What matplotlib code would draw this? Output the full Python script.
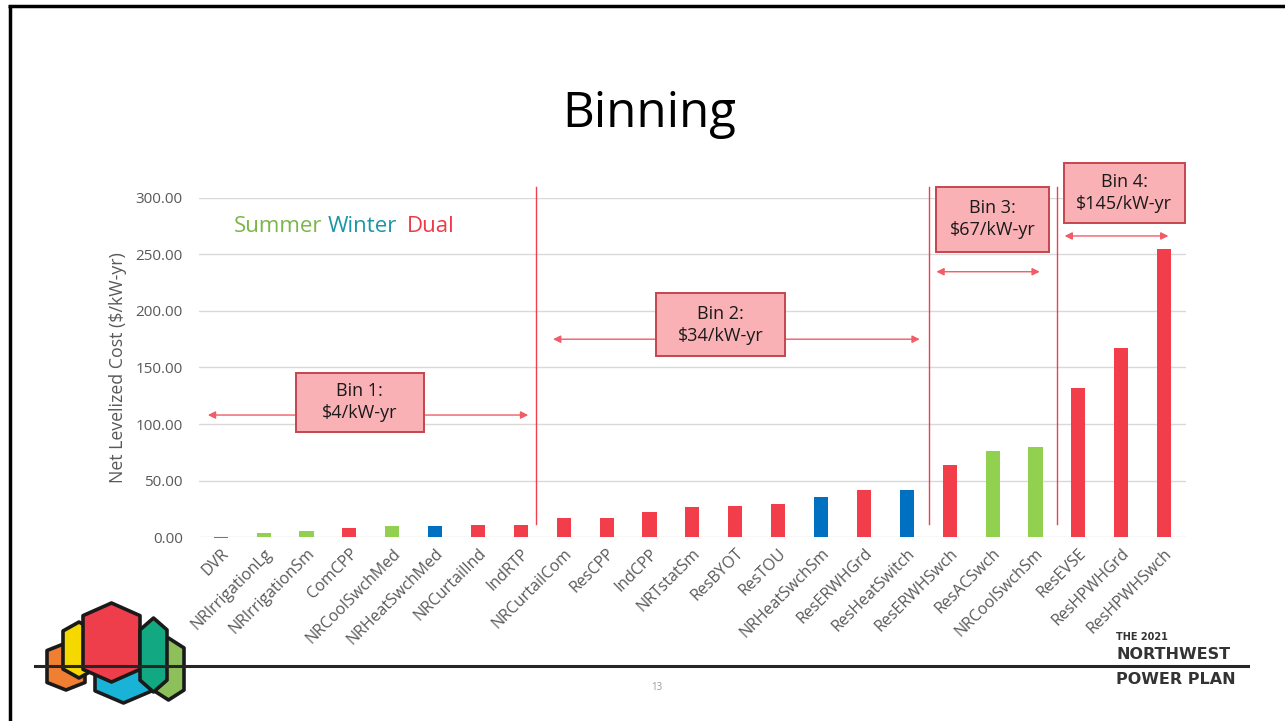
import numpy as np
import matplotlib
matplotlib.use('Agg')
import matplotlib.pyplot as plt
from matplotlib.patches import Rectangle, Polygon

plt.rcParams['font.family'] = ['Open Sans', 'DejaVu Sans']

# programs, sorted by net levelized cost
programs = ['DVR', 'NRIrrigationLg', 'NRIrrigationSm', 'ComCPP', 'NRCoolSwchMed',
            'NRHeatSwchMed', 'NRCurtailInd', 'IndRTP', 'NRCurtailCom', 'ResCPP',
            'IndCPP', 'NRTstatSm', 'ResBYOT', 'ResTOU', 'NRHeatSwchSm', 'ResERWHGrd',
            'ResHeatSwitch', 'ResERWHSwch', 'ResACSwch', 'NRCoolSwchSm', 'ResEVSE',
            'ResHPWHGrd', 'ResHPWHSwch']
cost = [-1.0, 3.8, 5.6, 8.5, 10.0, 10.0, 10.9, 10.9, 17.1, 17.4, 22.1, 26.5, 27.7,
        29.4, 35.6, 41.5, 41.8, 63.6, 76.0, 79.5, 132.2, 167.6, 254.7]
season = ['D', 'S', 'S', 'D', 'S', 'W', 'D', 'D', 'D', 'D', 'D', 'D', 'D', 'D',
          'W', 'D', 'W', 'D', 'S', 'S', 'D', 'D', 'D']

bin_names = ['Bin 1:', 'Bin 2:', 'Bin 3:', 'Bin 4:']
bin_rates = ['$4/kW-yr', '$34/kW-yr', '$67/kW-yr', '$145/kW-yr']

bar_colors = {'S': '#92D050', 'W': '#0070C0', 'D': '#F23E4B'}
red = '#F0404E'
gray = '#595959'

fig = plt.figure(figsize=(12.85, 7.21), dpi=100)

# slide decoration layer, in pixel units
deco = fig.add_axes([0, 0, 1, 1], zorder=0)
deco.set_xlim(0, 1285)
deco.set_ylim(721, 0)
deco.axis('off')

deco.plot([9.5, 9.5], [5.5, 721], color='black', lw=2.5, solid_capstyle='butt')
deco.plot([8.3, 1285], [5.5, 5.5], color='black', lw=2.5, solid_capstyle='butt')

deco.text(649, 127, 'Binning', fontsize=35.5, ha='center', va='baseline', color='black')

deco.text(234, 231.5, 'Summer', fontsize=16, color='#7AB648', va='baseline')
deco.text(328, 231.5, 'Winter', fontsize=16, color='#1A96A6', va='baseline')
deco.text(407, 231.5, 'Dual', fontsize=16, color='#EE3A48', va='baseline')


def hexagon(x0, x1, y0, y1):
    xc = (x0 + x1) / 2
    h = y1 - y0
    return [(xc, y0), (x1, y0 + 0.16 * h), (x1, y1 - 0.16 * h),
            (xc, y1), (x0, y1 - 0.16 * h), (x0, y0 + 0.16 * h)]


# logo hexes: (x0, x1, y0, y1, colour), back to front
logo = [(47, 85, 643, 690, '#F07F32'),
        (63, 95, 622, 678, '#F5D800'),
        (95, 152, 627, 703, '#1AB3D8'),
        (83, 140, 603, 682, '#EE3E4C'),
        (153, 184, 638, 700, '#8DC05A'),
        (140, 167, 618, 692, '#12A982')]
for x0, x1, y0, y1, c in logo:
    deco.add_patch(Polygon(hexagon(x0, x1, y0, y1), closed=True, facecolor=c,
                           edgecolor='#1a1a1a', lw=2.6, joinstyle='round'))

deco.plot([35, 1248], [666, 666], color='#262626', lw=2.2)
deco.text(657, 688, '13', fontsize=7, color='#9a9a9a', ha='center', va='center')

deco.text(1116, 640.5, 'THE 2021', fontsize=7, fontweight='bold', color='#333333',
          va='baseline', family='DejaVu Sans')
deco.text(1116, 659, 'NORTHWEST', fontsize=11.5, fontweight='bold', color='#333333',
          va='baseline', family='DejaVu Sans')
deco.text(1116, 684, 'POWER PLAN', fontsize=11.5, fontweight='bold', color='#333333',
          va='baseline', family='DejaVu Sans')

# chart
ax = fig.add_axes([0.1551, 0.2548, 0.7675, 0.4710], zorder=1)
ax.set_facecolor('none')
x = np.arange(len(programs))
ax.bar(x, cost, width=0.33, color=[bar_colors[s] for s in season], zorder=2,
       clip_on=False)

ax.set_xlim(-0.5, len(programs) - 0.5)
ax.set_ylim(0, 300)
ax.set_yticks(np.arange(0, 301, 50))
ax.set_yticklabels(['%.2f' % v for v in np.arange(0, 301, 50)])
ax.grid(axis='y', color='#D9D9D9', lw=1)
ax.set_axisbelow(True)
for s in ax.spines.values():
    s.set_visible(False)
ax.tick_params(axis='both', length=0, colors=gray, labelsize=11)
ax.tick_params(axis='x', labelsize=11.5, pad=6)
ax.tick_params(axis='y', pad=12)
ax.set_xticks(x)
ax.set_xticklabels(programs, rotation=45, ha='right', va='top', rotation_mode='anchor')
ax.set_ylabel('Net Levelized Cost ($/kW-yr)', color=gray, fontsize=12.8, labelpad=6)

# bin dividers
for xv in [7.36, 16.51, 19.51]:
    ax.plot([xv, xv], [11.7, 309.5], color=red, lw=1, clip_on=False, zorder=3)

# bin boxes (x0, x1, y0, y1) and their range arrows (x0, x1, y)
boxes = [(1.75, 4.74, 93.3, 145.4), (10.15, 13.15, 160.2, 215.5),
         (16.68, 19.31, 252.3, 309.4), (19.66, 22.48, 277.9, 330.4)]
arrows = [(-0.30, 7.17, 108), (7.75, 16.30, 175), (16.69, 19.10, 234.6),
          (19.68, 22.10, 266.2)]
for i, (bx0, bx1, by0, by1) in enumerate(boxes):
    ax0, ax1, ay = arrows[i]
    ax.annotate('', xy=(ax0, ay), xytext=(ax1, ay), zorder=4, annotation_clip=False,
                arrowprops=dict(arrowstyle='<|-|>', color='#F25C66', lw=1,
                                mutation_scale=11, shrinkA=0, shrinkB=0))
    ax.add_patch(Rectangle((bx0, by0), bx1 - bx0, by1 - by0, facecolor='#F9B1B6',
                           edgecolor='#C4454E', lw=1.4, zorder=5, clip_on=False))
    ax.text((bx0 + bx1) / 2, (by0 + by1) / 2, bin_names[i] + '\n' + bin_rates[i],
            ha='center', va='center', fontsize=13, color='#1a1a1a', zorder=6,
            linespacing=1.3)

fig.savefig('out.png', dpi=100)
